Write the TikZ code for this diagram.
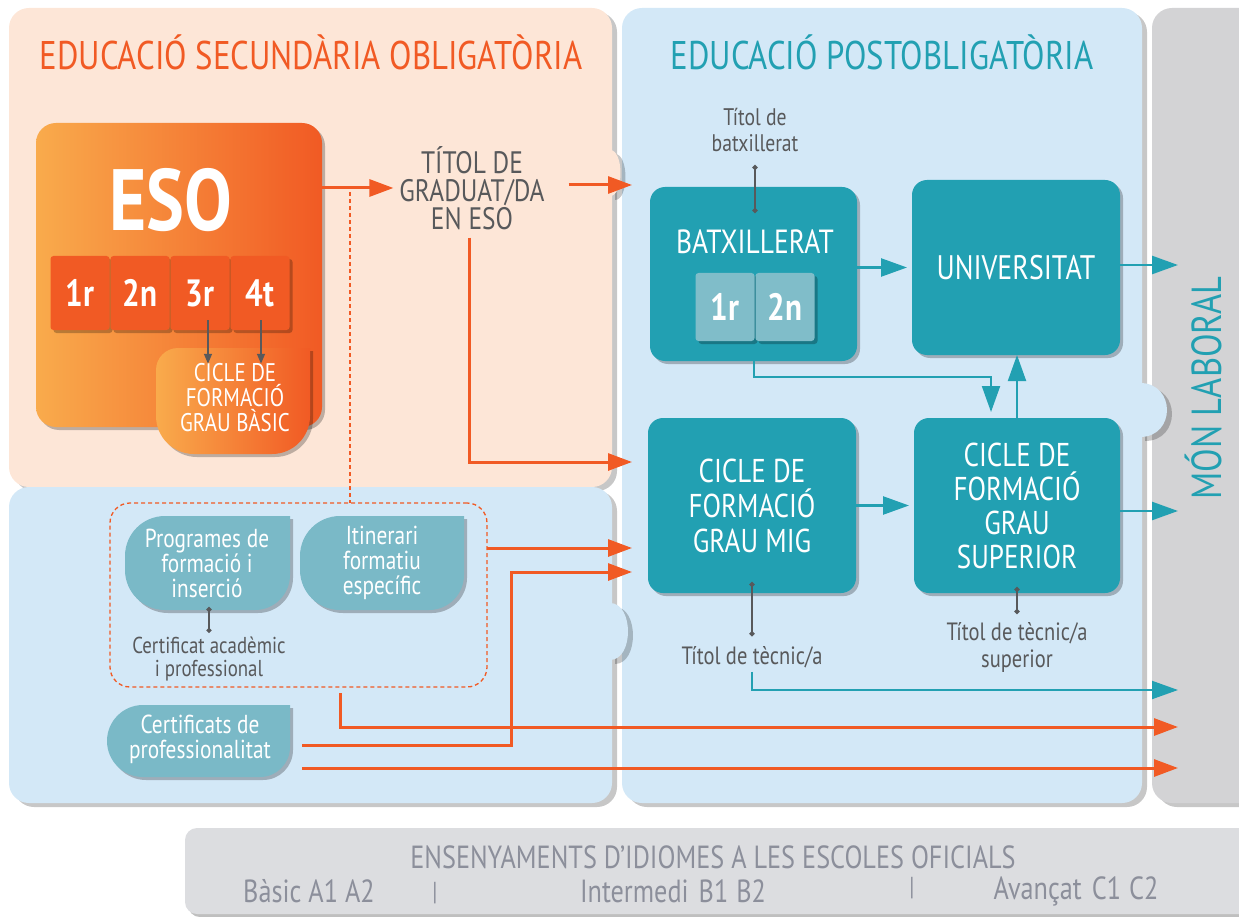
\documentclass[tikz,border=0pt]{standalone}
\usepackage{fontspec}
\setmainfont{PT Sans}[FakeStretch=0.82]
\usetikzlibrary{arrows.meta,shadows}
\definecolor{peach}{HTML}{FDE6D7}
\definecolor{lblue}{HTML}{D3E8F7}
\definecolor{greyp}{HTML}{D3D3D5}
\definecolor{barc}{HTML}{DCDDE0}
\definecolor{orng}{HTML}{F15A24}
\definecolor{tealc}{HTML}{22A0B2}
\definecolor{lteal}{HTML}{7AB9C7}
\definecolor{tealtile}{HTML}{80BDC9}
\definecolor{tgray}{HTML}{58595B}
\definecolor{bartext}{HTML}{8C8F9B}
\definecolor{esoL}{HTML}{F9AB4C}
\definecolor{esoR}{HTML}{F15A24}
\definecolor{tileo}{HTML}{F15A24}
\newcommand\lfshape[8]{%
 \path[#1] (#4,#3) -- (#4,{#5-#8}) arc[start angle=0,end angle=-90,radius=#8pt] -- ({#2+#7},#5) arc[start angle=270,end angle=180,radius=#7pt] -- (#2,{#3+#6}) arc[start angle=180,end angle=90,radius=#6pt] -- cycle;}
\begin{document}
\begin{tikzpicture}[x=1pt,y=-1pt,
  every node/.style={inner sep=0pt,outer sep=0pt},
  psh/.style={drop shadow={shadow xshift=5pt,shadow yshift=-4pt,opacity=.22,fill=black}},
  bsh/.style={drop shadow={shadow xshift=3pt,shadow yshift=-3pt,opacity=.25,fill=black}},
  wtext/.style={text=white,align=center},
  gtext/.style={text=tgray,align=center},
  btext/.style={text=bartext,font=\fontsize{32}{32}\selectfont},
  tbox/.style={fill=tealc,rounded corners=15pt,bsh,wtext},
  otile/.style={fill=tileo,rounded corners=3pt,minimum width=59,minimum height=74,bsh,wtext,font=\bfseries\fontsize{38}{38}\selectfont},
  ttile/.style={fill=tealtile,rounded corners=3pt,minimum width=59,minimum height=68,bsh,wtext,font=\bfseries\fontsize{38}{38}\selectfont},
  oarr/.style={draw=orng,line width=3pt,-{Triangle[length=24pt,width=17pt]}},
  tarr/.style={draw=tealc,line width=2.5pt,-{Triangle[length=26pt,width=18pt]}},
  garr/.style={draw=tgray,line width=1.5pt,-{Triangle[length=10pt,width=8pt]}},
  dotl/.style={draw=tgray,line width=1.3pt,{Circle[length=5pt]}-{Circle[length=5pt]}},
  dsh/.style={draw=orng,line width=1.3pt,dash pattern=on 4pt off 3pt}]
\useasboundingbox (0,0) rectangle (1239,917);

% bottom bar
\path[fill=barc,bsh,rounded corners=12pt] (185,828) rectangle (1270,914);
\node[btext] (barT) at (713,857) {ENSENYAMENTS D’IDIOMES A LES ESCOLES OFICIALS};
\node[btext] (bas) at (309,891) {Bàsic A1 A2};
\node[btext,font=\fontsize{26}{26}\selectfont] (pip1) at (435,893) {|};
\node[btext] (int) at (673,891) {Intermedi\hspace{10pt}B1\hspace{8pt}B2};
\node[btext,font=\fontsize{26}{26}\selectfont] (pip2) at (912,888) {|};
\node[btext] (ava) at (1076,891) {Avançat\hspace{10pt}C1\hspace{8pt}C2};

% grey panel
\path[fill=greyp,psh,rounded corners=20pt] (1152,8) rectangle (1280,803);
\node[rotate=90,text=tealc,font=\fontsize{42}{42}\selectfont] (mon) at (1203,388) {MÓN LABORAL};

% right panel
\path[fill=lblue,psh,rounded corners=20pt] (622,8) rectangle (1142,803);
\path[fill=lblue,psh] (1140,383) .. controls (1176,383) and (1176,437) .. (1140,437) -- cycle;

% peach panel
\path[fill=peach,psh,rounded corners=20pt] (9,8) rectangle (612,487);
\path[fill=peach,psh] (610,150) .. controls (624,150) and (624,196) .. (610,196) -- cycle;

% left blue panel
\path[fill=lblue,psh,rounded corners=20pt] (9,487) rectangle (612,803);
\path[fill=lblue,psh] (610,603) .. controls (634,603) and (634,660) .. (610,660) -- cycle;

% titles
\node[text=orng,font=\fontsize{40}{40}\selectfont] (t1) at (311,52) {EDUCACIÓ SECUNDÀRIA OBLIGATÒRIA};
\node[text=tealc,font=\fontsize{40}{40}\selectfont] (t2) at (882,52) {EDUCACIÓ POSTOBLIGATÒRIA};

% ESO
\node[left color=esoL,right color=esoR,rounded corners=20pt,minimum width=286,minimum height=304,bsh] (esobox) at (179,275) {};
\node[wtext,font=\bfseries\fontsize{87}{87}\selectfont] (esoT) at (171,200) {ESO};
\node[otile] (y1) at (80,293) {1r};
\node[otile] (y2) at (140,293) {2n};
\node[otile] (y3) at (200,293) {3r};
\node[otile] (y4) at (260,293) {4t};
\lfshape{left color=esoL,right color=esoR,bsh}{156}{348}{310}{454}{22}{38}{38}
\node[wtext,font=\fontsize{25.5}{25}\selectfont] (basT) at (235,398) {CICLE DE\\FORMACIÓ\\GRAU BÀSIC};
\coordinate (a3) at ([xshift=8pt,yshift=-27pt]y3.center);
\coordinate (a4) at ([xshift=1pt,yshift=-27pt]y4.center);
\draw[garr] (a3) -- (a3 |- basT.north);
\draw[garr] (a4) -- (a4 |- basT.north);

% titol graduat
\node[gtext,font=\fontsize{31}{28}\selectfont] (titol) at (472,188) {TÍTOL DE\\GRADUAT/DA\\EN ESO};
\draw[oarr] (esobox.east |- titol.west) -- ([xshift=-6pt]titol.west);
\coordinate (pA) at (632,185);
\draw[oarr] ([xshift=24pt]titol.east |- pA) -- (pA);
\coordinate (pB) at (632,462);
\draw[oarr] ([xshift=-3pt,yshift=-8pt]titol.south) |- (pB);

% dashed group
\node[dsh,rounded corners=20pt,minimum width=377,minimum height=184] (dbox) at (298.5,595) {};
\coordinate (d0) at (350,192);
\draw[dsh] (d0) -- (d0 |- dbox.north);
\lfshape{fill=lteal,bsh}{125}{516}{290}{610}{40}{40}{35}
\node[wtext,font=\fontsize{26}{25}\selectfont] (progT) at (207,563) {Programes de\\formació i\\inserció};
\lfshape{fill=lteal,bsh}{300}{516}{464}{610}{40}{40}{35}
\node[wtext,font=\fontsize{26}{25}\selectfont] (itinT) at (382,563) {Itinerari\\formatiu\\específic};
\node[gtext,font=\fontsize{23}{23}\selectfont] (cai) at (209,659) {Certificat acadèmic\\i professional};
\coordinate (c1) at (209,607);
\draw[dotl,shorten >=4pt] (c1) -- (c1 |- cai.north);
\lfshape{fill=lteal,bsh}{107}{705}{290}{777}{36}{36}{30}
\node[wtext,font=\fontsize{26}{25}\selectfont] (certT) at (200,739) {Certificats de\\professionalitat};

% orange connectors (left)
\coordinate (pC) at (632,548);
\draw[oarr] (dbox.east |- pC) -- (pC);
\coordinate (cs1) at (302,745);
\coordinate (cs2) at (302,768);
\coordinate (k1) at (511,745);
\coordinate (pD) at (632,572);
\draw[oarr] (cs1) -| (k1 |- pD) -- (pD);
\coordinate (ds) at (340,693);
\coordinate (pE) at (1178,727);
\draw[oarr] (ds) |- (pE);
\coordinate (pF) at (1178,768);
\draw[oarr] (cs2) -- (pF);

% right side boxes
\node[gtext,font=\fontsize{24}{26}\selectfont] (tb) at (755,130) {Títol de\\batxillerat};
\node[tbox,minimum width=207,minimum height=174] (batx) at (753.5,274) {};
\node[wtext,font=\fontsize{33.5}{30}\selectfont] (batxT) at (755,242) {BATXILLERAT};
\node[ttile] (b1) at (725,307) {1r};
\node[ttile] (b2) at (785,307) {2n};
\coordinate (q1) at (755,165);
\coordinate (q2) at (755,213);
\draw[dotl] (q1) -- (q2);
\node[tbox,minimum width=208,minimum height=175,font=\fontsize{34}{34}\selectfont] (univ) at (1016,267.5) {UNIVERSITAT};
\node[tbox,minimum width=208,minimum height=175,font=\fontsize{33}{35}\selectfont] (mig) at (752,505.5) {CICLE DE\\FORMACIÓ\\GRAU MIG};
\node[tbox,minimum width=206,minimum height=175,font=\fontsize{33}{34}\selectfont] (sup) at (1017,505.5) {CICLE DE\\FORMACIÓ\\GRAU\\SUPERIOR};

% teal connectors
\draw[tarr,shorten >=5pt] (batx.east |- univ.west) -- (univ.west);
\coordinate (m1) at (1178,265);
\draw[tarr] (univ.east |- m1) -- (m1);
\draw[tarr,shorten >=5pt] (mig.east) -- (mig.east -| sup.west);
\coordinate (m2) at (1178,511);
\draw[tarr] (sup.east |- m2) -- (m2);
\coordinate (j1) at (991,377);
\draw[tarr,line width=2pt,shorten >=6pt] (batx.south) |- (j1) -- (j1 |- sup.north);
\draw[tarr,line width=2pt] (sup.north) -- (sup.north |- univ.south);

\node[gtext,font=\fontsize{25}{26}\selectfont] (tec1) at (752,657) {Títol de tècnic/a};
\draw[dotl] ([yshift=11pt]mig.south) -- ([yshift=10pt]tec1.north);
\coordinate (m3) at (1178,690);
\draw[tarr,line width=2pt] ([yshift=-4pt]tec1.south) |- (m3);
\node[gtext,font=\fontsize{25}{27}\selectfont] (tec2) at (1017,647) {Títol de tècnic/a\\superior};
\draw[dotl] ([yshift=6pt]sup.south) -- ([yshift=8pt]tec2.north);
\end{tikzpicture}
\end{document}
